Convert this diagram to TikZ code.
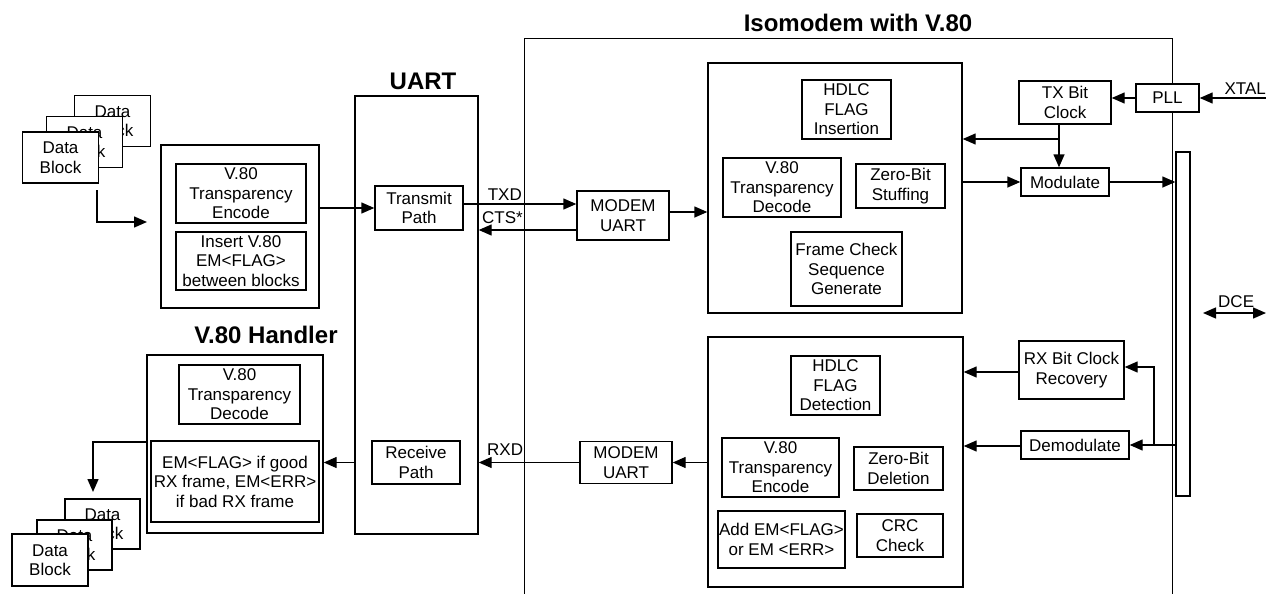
\documentclass[tikz,border=0pt]{standalone}
\usepackage{fontspec}
\setmainfont{Liberation Sans}
\usetikzlibrary{arrows.meta}
\newcommand\fsz{\fontsize{17}{19.5}\selectfont}
\newcommand\ttlfont{\fontsize{24}{28}\selectfont\bfseries}
\begin{document}
\begin{tikzpicture}[x=1pt,y=-1pt,
  box/.style={draw,line width=1.4pt,fill=white,inner sep=0pt,align=center,font=\fsz},
  arr/.style={line width=1.4pt,-{Triangle[length=13pt,width=11pt]}},
  dbl/.style={line width=1.4pt,{Triangle[length=13pt,width=11pt]}-{Triangle[length=13pt,width=11pt]}},
  lbl/.style={font=\fsz,inner sep=0pt,anchor=base},
  ttl/.style={font=\ttlfont,inner sep=0pt,anchor=base}]
\useasboundingbox (0,0) rectangle (1266,594);
\clip (0,0) rectangle (1266,594);

% titles
\node[ttl] (tiso) at (858,32) {Isomodem with V.80};
\node[ttl] (tuart) at (423,89) {UART};
\node[ttl] (thand) at (266,343) {V.80 Handler};

% isomodem outline
\node[draw,line width=1.4pt,minimum width=648pt,minimum height=600pt,anchor=north west,inner sep=0pt] (iso) at (524,38) {};

% top data blocks
\node[box,minimum width=76pt,minimum height=51pt] (db1) at (112.5,121) {Data\\Block};
\node[box,minimum width=76pt,minimum height=51pt] (db2) at (84.5,142) {Data\\Block};
\node[box,minimum width=76pt,minimum height=51pt] (db3) at (60.5,157.5) {Data\\Block};

% encoder
\node[box,minimum width=158pt,minimum height=163pt] (enc) at (240,226.5) {};
\node[box,minimum width=130pt,minimum height=59pt] (enc1) at (241,193.5) {V.80\\Transparency\\Encode};
\node[box,minimum width=130pt,minimum height=58pt] (enc2) at (241,261) {Insert V.80\\EM<FLAG>\\between blocks};

% UART
\node[box,minimum width=123pt,minimum height=438pt] (uart) at (416.5,315) {};
\node[box,minimum width=88pt,minimum height=44pt] (tp) at (419,208) {Transmit\\Path};
\node[box,minimum width=88pt,minimum height=43pt] (rp) at (416,462.5) {Receive\\Path};

% modem UARTs
\node[box,minimum width=92pt,minimum height=49pt] (mu1) at (623,215.5) {MODEM\\UART};
\node[box,minimum width=92pt,minimum height=42pt] (mu2) at (626,462.5) {MODEM\\UART};

% TX block
\node[box,minimum width=254pt,minimum height=250pt] (txb) at (835,188) {};
\node[box,minimum width=89pt,minimum height=59pt] (hdlc1) at (846.5,109.5) {HDLC\\FLAG\\Insertion};
\node[box,minimum width=118pt,minimum height=59pt] (dec1) at (782,187.5) {V.80\\Transparency\\Decode};
\node[box,minimum width=89pt,minimum height=44pt] (zbs) at (900.5,186) {Zero-Bit\\Stuffing};
\node[box,minimum width=111pt,minimum height=74pt] (fcs) at (846.5,269) {Frame Check\\Sequence\\Generate};

% RX block
\node[box,minimum width=255pt,minimum height=250pt] (rxb) at (835.5,462) {};
\node[box,minimum width=89pt,minimum height=59pt] (hdlc2) at (835.5,385.5) {HDLC\\FLAG\\Detection};
\node[box,minimum width=117pt,minimum height=59pt] (enc3) at (780.5,467.5) {V.80\\Transparency\\Encode};
\node[box,minimum width=89pt,minimum height=43pt] (zbd) at (898.5,468.5) {Zero-Bit\\Deletion};
\node[box,minimum width=127pt,minimum height=57pt] (addem) at (781.5,539.5) {Add EM<FLAG>\\or EM <ERR>};
\node[box,minimum width=86pt,minimum height=43pt] (crc) at (900,535.5) {CRC\\Check};

% clocks / modulators
\node[box,minimum width=92pt,minimum height=43pt] (txc) at (1065,102.5) {TX Bit\\Clock};
\node[box,minimum width=63pt,minimum height=28pt] (pll) at (1167.5,98) {PLL};
\node[box,minimum width=88pt,minimum height=28pt] (mod) at (1065,182) {Modulate};
\node[box,minimum width=105pt,minimum height=58pt] (rxc) at (1071.5,370) {RX Bit Clock\\Recovery};
\node[box,minimum width=108pt,minimum height=28pt] (demod) at (1075,445) {Demodulate};
\node[box,minimum width=14pt,minimum height=344pt] (bus) at (1183,324) {};

% handler
\node[box,minimum width=176pt,minimum height=178pt] (hb) at (235,444) {};
\node[box,minimum width=121pt,minimum height=59pt] (hdec) at (239.5,394.5) {V.80\\Transparency\\Decode};
\node[box,minimum width=168pt,minimum height=81pt] (hem) at (235,481.5) {EM<FLAG> if good\\RX frame, EM<ERR>\\if bad RX frame};

% bottom data blocks
\node[box,minimum width=75pt,minimum height=50pt] (db4) at (102.5,524) {Data\\Block};
\node[box,minimum width=75pt,minimum height=50pt] (db5) at (74.5,545) {Data\\Block};
\node[box,minimum width=76pt,minimum height=52pt] (db6) at (50,560) {Data\\Block};

% free-end coordinates
\coordinate (s1) at (97,190);
\coordinate (e1) at (147,222);
\coordinate (xtal) at (1266,98);
\coordinate (br1) at (1059,139);
\coordinate (dceL) at (1203,313);
\coordinate (dceR) at (1266,313);
\coordinate (br2) at (1154,445);
\coordinate (e2) at (93,492);

% connectors
\draw[arr] (s1) |- (e1);
\draw[arr] (enc.east |- tp.west) -- (tp.west);
\draw[arr] ([yshift=4pt]tp.east) -- ([yshift=4pt]tp.east -| mu1.west);
\draw[arr] ([yshift=-14.5pt]mu1.west) -- ([yshift=-14.5pt]mu1.west -| uart.east);
\draw[arr] ([yshift=3.5pt]mu1.east) -- ([yshift=3.5pt]mu1.east -| txb.west);
\draw[arr] (pll.west) -- (pll.west -| txc.east);
\draw[arr] (xtal) -- (pll.east);
\draw[arr] ([xshift=-6pt]txc.south) -- ([xshift=-6pt]txc.south |- mod.north);
\draw[arr] (br1) -- (br1 -| txb.east);
\draw[arr] (mod.west -| txb.east) -- (mod.west);
\draw[arr] (mod.east) -- (mod.east -| bus.west);
\draw[dbl] (dceL) -- (dceR);
\draw[arr] (demod.east -| bus.west) -- (demod.east);
\draw[arr] (br2) |- ([yshift=3pt]rxc.east);
\draw[arr] ([yshift=-2pt]rxc.west) -- ([yshift=-2pt]rxc.west -| rxb.east);
\draw[arr] ([yshift=-1pt]demod.west) -- ([yshift=-1pt]demod.west -| rxb.east);
\draw[arr] (mu2.east -| rxb.west) -- (mu2.east);
\draw[arr] (mu2.west) -- (mu2.west -| uart.east);
\draw[arr] (rp.west -| uart.west) -- (rp.west -| hb.east);
\draw[arr] ([yshift=2pt]hb.west) -| (e2);

% labels
\node[lbl,anchor=base east] (ltxd) at (522,200) {TXD};
\node[lbl,anchor=base west] (lcts) at (482,223) {CTS*};
\node[lbl,anchor=base west] (lrxd) at (487,455) {RXD};
\node[lbl,anchor=base east] (lxtal) at (1266,95) {XTAL};
\node[lbl,anchor=base west] (ldce) at (1218,307) {DCE};
\end{tikzpicture}
\end{document}
